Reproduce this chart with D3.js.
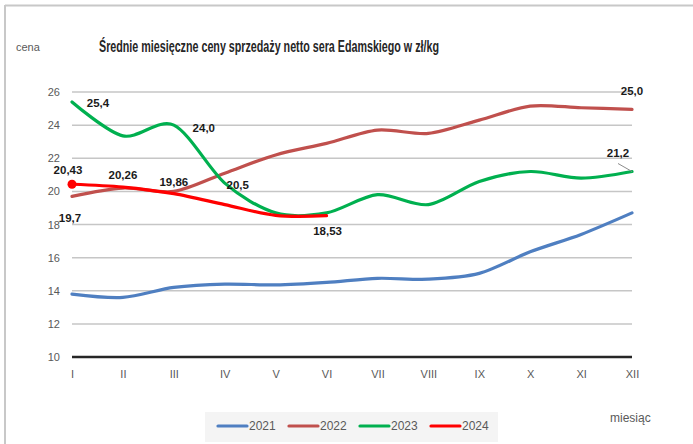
<!DOCTYPE html>
<html>
<head>
<meta charset="utf-8">
<script src="https://cdn.jsdelivr.net/npm/d3@7"></script>
<style>
body { margin: 0; background: #fff; }
svg { display: block; font-family: "Liberation Sans", Arial, sans-serif; }
</style>
</head>
<body>
<svg id="chart"></svg>
<script>
var months = ["I", "II", "III", "IV", "V", "VI", "VII", "VIII", "IX", "X", "XI", "XII"];
var yTicks = [10, 12, 14, 16, 18, 20, 22, 24, 26];
var years = ["2021", "2022", "2023", "2024"];
var colors = ["#4f7fc1", "#c0504d", "#00b04f", "#ff0000"];

var v2021 = [13.8, 13.6, 14.2, 14.4, 14.35, 14.5, 14.75, 14.7, 15.05, 16.35, 17.4, 18.7];
var v2022 = [19.7, 20.2, 20.0, 21.1, 22.2, 22.9, 23.7, 23.5, 24.3, 25.15, 25.05, 24.95];
var v2023 = [25.4, 23.35, 24.0, 20.5, 18.7, 18.7, 19.8, 19.2, 20.6, 21.2, 20.8, 21.2];
var v2024 = [20.43, 20.26, 19.86, 19.2, 18.55, 18.53];

// data labels: [series index, month index, text, dx, dy]
var labels = [
  [2, 0, "25,4", 26, 1],
  [2, 2, "24,0", 30, 3],
  [2, 3, "20,5", 13, 2],
  [2, 11, "21,2", -14, -19],
  [1, 11, "25,0", 0, -18],
  [1, 0, "19,7", -2, 22],
  [3, 0, "20,43", -4, -14],
  [3, 1, "20,26", 0, -12],
  [3, 2, "19,86", 0, -12],
  [3, 5, "18,53", 1, 15]
];

var width = 693,
    height = 444;

var svg = d3.select("#chart")
  .attr("width", width)
  .attr("height", height);

var series = [v2021, v2022, v2023, v2024];

var x = d3.scalePoint()
  .domain(months)
  .range([72, 632]);

var y = d3.scaleLinear()
  .domain([10, 26])
  .range([357, 92]);

// frame
svg.append("line")
  .attr("x1", 5).attr("x2", width).attr("y1", 5.5).attr("y2", 5.5)
  .attr("stroke", "#c8c8c8").attr("stroke-width", 2);
svg.append("line")
  .attr("x1", 5).attr("x2", 5).attr("y1", 5).attr("y2", height)
  .attr("stroke", "#c8c8c8").attr("stroke-width", 2);

// title
svg.append("text")
  .attr("x", 99).attr("y", 52)
  .attr("textLength", 340)
  .attr("lengthAdjust", "spacingAndGlyphs")
  .style("font-size", "16px")
  .style("font-weight", "bold")
  .style("fill", "#262626")
  .text("Średnie miesięczne ceny sprzedaży netto sera Edamskiego w zł/kg");

svg.append("text")
  .attr("x", 16).attr("y", 51)
  .style("font-size", "11px")
  .style("fill", "#595959")
  .text("cena");

// grid
svg.append("g")
  .selectAll("line")
  .data(yTicks.filter(function(d) { return d > 10; }))
  .enter().append("line")
  .attr("x1", x("I")).attr("x2", x("XII"))
  .attr("y1", function(d) { return y(d); })
  .attr("y2", function(d) { return y(d); })
  .attr("stroke", "#c6c6c6")
  .attr("stroke-width", 1.5);

var yAxis = svg.append("g")
  .attr("transform", "translate(" + x("I") + ",0)")
  .call(d3.axisLeft(y).tickValues(yTicks).tickSize(0).tickPadding(12));
yAxis.select(".domain").remove();
yAxis.selectAll("text")
  .style("font-size", "11px")
  .style("fill", "#595959")
  .style("font-family", "inherit");

var xAxis = svg.append("g")
  .attr("transform", "translate(0," + y(10) + ")")
  .call(d3.axisBottom(x).tickSize(0).tickPadding(13));
xAxis.select(".domain")
  .attr("stroke", "#262626")
  .attr("stroke-width", 2.5)
  .attr("d", "M" + x("I") + ",0H" + x("XII"));
xAxis.selectAll("text")
  .style("font-size", "11px")
  .style("fill", "#595959")
  .style("font-family", "inherit");

// lines
var line = d3.line()
  .x(function(d, i) { return x(months[i]); })
  .y(function(d) { return y(d); })
  .curve(d3.curveCardinal.tension(0.1));

svg.append("g")
  .selectAll("path")
  .data(series)
  .enter().append("path")
  .attr("d", line)
  .attr("fill", "none")
  .attr("stroke", function(d, i) { return colors[i]; })
  .attr("stroke-width", 3.2)
  .attr("stroke-linecap", "round");

// 2024 start marker
svg.append("circle")
  .attr("cx", x("I")).attr("cy", y(v2024[0]))
  .attr("r", 4.5)
  .attr("fill", colors[3]);

// leader line for 21,2
svg.append("line")
  .attr("x1", x("XII") - 14).attr("y1", y(v2023[11]) - 8)
  .attr("x2", x("XII")).attr("y2", y(v2023[11]))
  .attr("stroke", "#8c8c8c")
  .attr("stroke-width", 1);

svg.append("g")
  .selectAll("text")
  .data(labels)
  .enter().append("text")
  .attr("x", function(d) { return x(months[d[1]]) + d[3]; })
  .attr("y", function(d) { return y(series[d[0]][d[1]]) + d[4]; })
  .attr("text-anchor", "middle")
  .attr("dy", "0.35em")
  .style("font-size", "11.5px")
  .style("font-weight", "bold")
  .style("fill", "#1a1a1a")
  .text(function(d) { return d[2]; });

// legend
var legend = svg.append("g");
legend.append("rect")
  .attr("x", 205).attr("y", 412)
  .attr("width", 293).attr("height", 30)
  .attr("fill", "#f4f4f4");

var item = legend.selectAll(".item")
  .data(years)
  .enter().append("g")
  .attr("class", "item")
  .attr("transform", function(d, i) { return "translate(" + (218 + i * 71) + ",426)"; });

item.append("line")
  .attr("x1", 0).attr("x2", 29)
  .attr("stroke", function(d, i) { return colors[i]; })
  .attr("stroke-width", 3.2)
  .attr("stroke-linecap", "round");

item.append("text")
  .attr("x", 31)
  .attr("dy", "0.36em")
  .style("font-size", "12px")
  .style("fill", "#595959")
  .text(function(d) { return d; });

svg.append("text")
  .attr("x", 610).attr("y", 422)
  .style("font-size", "12px")
  .style("fill", "#595959")
  .text("miesiąc");
</script>
</body>
</html>
